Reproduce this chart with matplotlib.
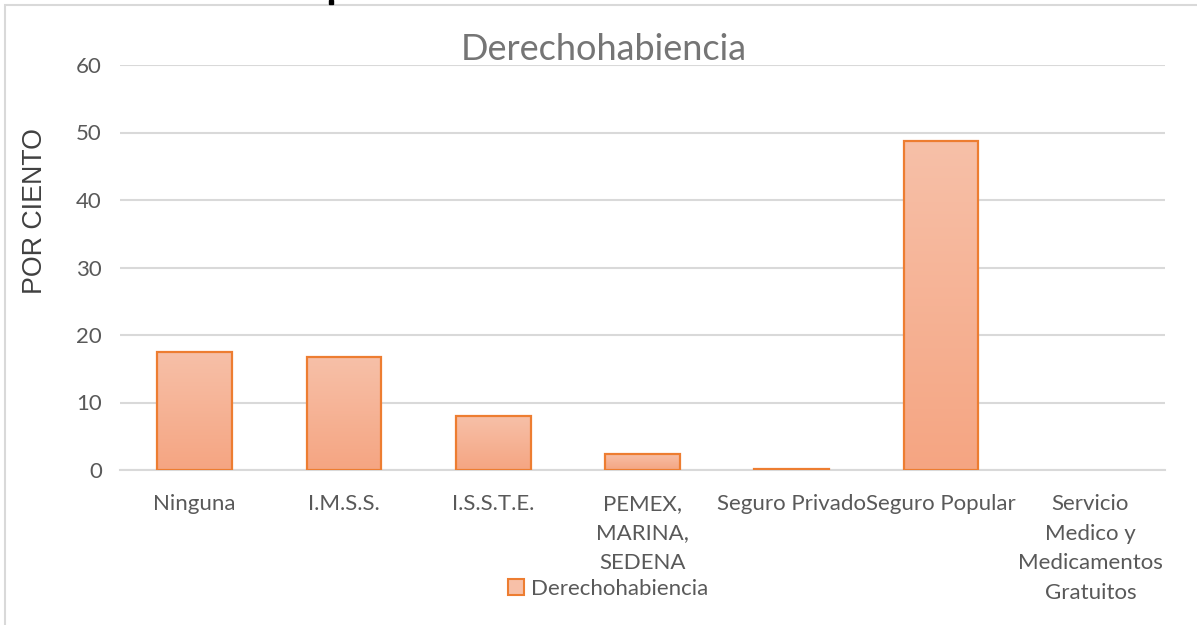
import matplotlib
matplotlib.use('Agg')
import matplotlib.pyplot as plt
import matplotlib.patches as mpatches
import numpy as np

categorias = ['Ninguna', 'I.M.S.S.', 'I.S.S.T.E.', 'PEMEX,\nMARINA,\nSEDENA',
              'Seguro Privado', 'Seguro Popular',
              'Servicio\nMedico y\nMedicamentos\nGratuitos']
valores = [17.5, 16.7, 8.0, 2.4, 0.2, 48.7, 0.0]
yticks = [0, 10, 20, 30, 40, 50, 60]

borde = '#ED7D31'
c_arriba = np.array([247, 192, 168]) / 255
c_abajo = np.array([245, 165, 130]) / 255
gris = '#595959'
fuente = 'Lato'

fig = plt.figure(figsize=(11.97, 6.25), dpi=100)
ax = fig.add_axes([120/1197, 1-470/625, 1045/1197, 405/625])

x = np.arange(len(categorias))
bars = ax.bar(x, valores, width=0.5, color=c_abajo, edgecolor=borde,
              linewidth=1.6, zorder=3, label='Derechohabiencia')

# degradado vertical dentro de cada barra
grad = np.linspace(0, 1, 256).reshape(-1, 1)
cmap = matplotlib.colors.LinearSegmentedColormap.from_list('g', [c_abajo, c_arriba])
for b in bars:
    h = b.get_height()
    if h <= 0:
        b.set_linewidth(0)
        continue
    xx = b.get_x()
    im = ax.imshow(grad, cmap=cmap, origin='lower', aspect='auto',
                   extent=[xx, xx + b.get_width(), 0, h], zorder=2.5)
    im.set_clip_path(b)
    b.set_facecolor('none')

ax.set_xlim(-0.5, len(categorias) - 0.5)
ax.set_ylim(0, 60)
ax.set_yticks(yticks)
ax.set_xticks(x)
ax.set_xticklabels(categorias, fontsize=16, color=gris, family=fuente,
                   linespacing=1.62, va='top')
for t in ax.get_yticklabels():
    t.set_fontsize(16)
    t.set_color(gris)
    t.set_family(fuente)
ax.tick_params(axis='both', length=0, pad=13)
ax.tick_params(axis='x', pad=17)
ax.grid(axis='y', color='#D9D9D9', linewidth=1.5, zorder=0)
for s in ['top', 'right', 'left']:
    ax.spines[s].set_visible(False)
ax.spines['bottom'].set_color('#D9D9D9')
ax.spines['bottom'].set_linewidth(1.5)

ax.set_ylabel('POR CIENTO', fontsize=19.3, color='#404040',
              family='Liberation Sans')
ax.yaxis.set_label_coords(-72/1045, (470-211)/405)
fig.text(604/1197, 1-50/625, 'Derechohabiencia', fontsize=26, color='#757575',
         family=fuente, ha='center', va='center')

handle = mpatches.Patch(facecolor=c_arriba, edgecolor=borde, linewidth=1.5)
fig.legend([handle], ['Derechohabiencia'], loc='center',
           bbox_to_anchor=(608/1197, 1-589/625), frameon=False,
           prop={'family': fuente, 'size': 16}, handlelength=0.75,
           handleheight=0.75, handletextpad=0.3, labelcolor=gris)

# marco del grafico
marco = mpatches.Rectangle((5/1197, -0.1), 1.2, 1-5/625+0.1,
                           transform=fig.transFigure, fill=False,
                           edgecolor='#D9D9D9', linewidth=1.5, clip_on=False)
fig.patches.append(marco)
# resto de un encabezado recortado arriba
fig.patches.append(mpatches.Rectangle((329/1197, 1-4/625), 4/1197, 4/625,
                                      transform=fig.transFigure,
                                      color='black'))

fig.savefig('out.png', dpi=100)
